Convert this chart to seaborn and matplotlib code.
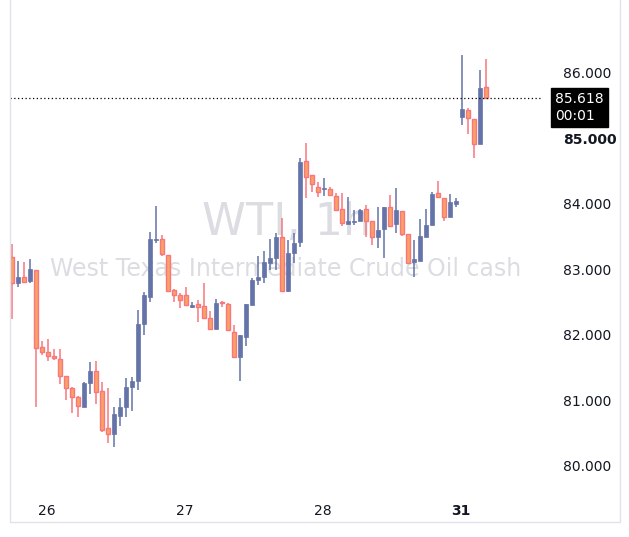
import matplotlib
matplotlib.use("Agg")
import matplotlib.pyplot as plt
import seaborn as sns
import pandas as pd
import numpy as np

opens = [83.19,82.79,82.89,82.82,82.99,81.82,81.74,81.68,81.63,81.37,81.18,81.05,80.90,81.27,81.44,81.14,80.57,80.49,80.76,80.89,
         81.21,81.30,82.17,82.58,83.45,83.47,83.22,82.69,82.60,82.61,82.43,82.47,82.44,82.26,82.09,82.49,82.47,82.05,81.66,81.97,
         82.46,82.84,82.89,83.10,83.18,83.50,82.67,83.25,83.42,84.66,84.44,84.26,84.22,84.23,84.12,83.92,83.69,83.72,83.73,83.92,
         83.73,83.50,83.62,83.95,83.69,83.89,83.54,83.11,83.13,83.50,83.68,84.17,84.09,83.80,84.00,85.33,85.44,85.30,84.92,85.79]
highs = [83.39,83.13,83.11,83.16,82.99,81.91,81.94,81.79,81.79,81.37,81.21,81.07,81.28,81.59,81.60,81.28,81.19,80.90,81.04,81.34,
         81.36,82.38,82.66,83.57,83.97,83.53,83.22,82.70,82.64,82.73,82.50,82.53,82.79,82.37,82.55,82.52,82.49,82.15,82.00,82.47,
         82.87,83.21,83.28,83.47,83.56,83.79,83.45,83.56,84.70,84.93,84.44,84.34,84.40,84.26,84.17,84.17,84.11,83.91,83.92,83.98,
         83.73,83.95,83.95,84.14,84.24,83.89,83.54,83.44,83.77,83.92,84.18,84.35,84.09,84.15,84.09,86.27,85.47,85.30,86.05,86.21]
lows = [82.24,82.73,82.79,82.79,80.90,81.69,81.60,81.62,81.25,81.01,80.81,80.75,80.90,81.10,80.95,80.52,80.35,80.29,80.61,80.75,
        80.84,81.16,82.00,82.50,83.40,83.21,82.66,82.50,82.41,82.46,82.41,82.20,82.26,82.09,82.09,82.43,82.08,81.66,81.30,81.83,
        82.46,82.76,82.79,82.99,82.99,82.67,82.66,83.10,83.34,84.09,84.18,84.11,84.12,84.14,83.91,83.66,83.69,83.68,83.73,83.50,
        83.37,83.33,83.18,83.66,83.56,83.51,83.10,82.89,83.13,83.50,83.68,84.11,83.73,83.80,83.95,85.21,85.07,84.70,84.92,85.62]
closes = [82.79,82.89,82.81,83.01,81.80,81.74,81.68,81.65,81.37,81.19,81.05,80.92,81.27,81.44,81.13,80.55,80.49,80.79,80.89,81.21,
          81.30,82.17,82.60,83.47,83.47,83.24,82.67,82.61,82.53,82.46,82.45,82.43,82.26,82.09,82.49,82.48,82.08,81.66,82.00,82.47,
          82.84,82.89,83.11,83.18,83.50,82.67,83.25,83.40,84.64,84.41,84.31,84.18,84.23,84.14,83.91,83.71,83.73,83.74,83.91,83.73,
          83.50,83.60,83.95,83.66,83.91,83.54,83.10,83.15,83.51,83.68,84.15,84.11,83.80,84.03,84.05,85.45,85.31,84.92,85.77,85.618]
day_labels = ["26", "27", "28", "31"]
day_positions = [5.83, 28.83, 51.83, 74.83]
price_ticks = [80, 81, 82, 83, 84, 85, 86]
last_price = 85.618

df = pd.DataFrame({"o": opens, "h": highs, "l": lows, "c": closes})
df["i"] = np.arange(len(df))
df["up"] = df["c"] >= df["o"]

sns.set_theme(style="white")
fig = plt.figure(figsize=(6.29, 5.37), dpi=100)
ax = fig.add_axes([10/629, 47/537, 531/629, 482/537])

UP = "#6473a8"
DN_FILL = "#f9a262"
DN_EDGE = "#f7767f"

ax.text(0.52, 0.555, "WTI, 1h", transform=ax.transAxes, ha="center", va="center",
        fontsize=32, color="#dcdde2", zorder=0)
ax.text(0.52, 0.458, "West Texas Intermediate Crude Oil cash", transform=ax.transAxes,
        ha="center", va="center", fontsize=17, color="#dcdde2", zorder=0)

for up, sub in df.groupby("up"):
    col = UP if up else DN_EDGE
    ax.vlines(sub["i"], sub["l"], sub["h"], color=col, lw=1.1, zorder=2)
    bottom = np.minimum(sub["o"], sub["c"])
    height = np.maximum(np.abs(sub["c"] - sub["o"]), 0.015)
    if up:
        ax.bar(sub["i"], height, bottom=bottom, width=0.72, color=UP, edgecolor=UP, lw=0.5, zorder=3)
    else:
        ax.bar(sub["i"], height, bottom=bottom, width=0.62, color=DN_FILL, edgecolor=DN_EDGE, lw=1.0, zorder=3)

ax.axhline(last_price, color="black", ls=(0, (1, 2)), lw=0.9, zorder=4)

ax.set_xlim(-0.33, 88.2)
ax.set_ylim(79.63, 86.99)
ax.set_xticks(day_positions)
ax.set_xticklabels(day_labels)
for lbl in ax.get_xticklabels():
    if lbl.get_text() == "31":
        lbl.set_fontweight("bold")
ax.set_yticks(price_ticks)
ax.set_yticklabels([f"{p:.3f}" for p in price_ticks])
ax.yaxis.tick_right()
ax.tick_params(axis="y", length=0, pad=16, labelsize=10, labelcolor="#131722")
ax.tick_params(axis="x", length=0, pad=10, labelsize=10, labelcolor="#131722")
for lbl in ax.get_yticklabels():
    if lbl.get_text() == "85.000":
        lbl.set_fontweight("bold")
for s in ax.spines.values():
    s.set_visible(False)

ax.annotate("85.618\n00:01", xy=(1.0, last_price), xycoords=("axes fraction", "data"),
            xytext=(10, -7), textcoords="offset points", ha="left", va="center",
            fontsize=10, color="white", linespacing=1.2,
            bbox=dict(boxstyle="square,pad=0.3", fc="black", ec="black"))

# frame lines
fig.add_artist(plt.Line2D([10/629, 10/629], [15/537, 1], color="#e0e3eb", lw=1))
fig.add_artist(plt.Line2D([620/629, 620/629], [15/537, 1], color="#e0e3eb", lw=1))
fig.add_artist(plt.Line2D([10/629, 620/629], [15/537, 15/537], color="#e0e3eb", lw=1))

fig.savefig("out.png", dpi=100, facecolor="white")
